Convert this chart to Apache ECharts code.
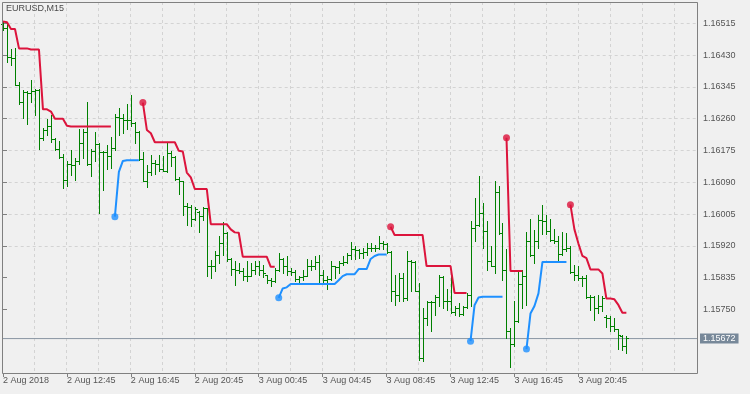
<!DOCTYPE html>
<html><head><meta charset="utf-8">
<script src="https://cdn.jsdelivr.net/npm/echarts@6/dist/echarts.min.js"></script>
<style>html,body{margin:0;padding:0;background:#f0f0f0}#c{width:750px;height:394px}</style>
</head><body><div id="c"></div>
<script>
const symbolName = 'EURUSD,M15';
const timeLabels = ['2 Aug 2018','2 Aug 12:45','2 Aug 16:45','2 Aug 20:45','3 Aug 00:45','3 Aug 04:45','3 Aug 08:45','3 Aug 12:45','3 Aug 16:45','3 Aug 20:45'];
const priceTicks = [1.15750,1.15835,1.15920,1.16005,1.16090,1.16175,1.16260,1.16345,1.16430,1.16515];

const open = [1.16513,1.16502,1.16424,1.16420,1.16350,1.16302,1.16331,1.16327,1.16333,1.16335,
1.16207,1.16229,1.16239,1.16205,1.16178,1.16155,1.16094,1.16137,1.16135,1.16145,
1.16194,1.16222,1.16138,1.16172,1.16191,1.16169,1.16170,1.16158,1.16179,1.16262,
1.16261,1.16254,1.16254,1.16247,1.16223,1.16151,1.16093,1.16115,1.16140,1.16138,
1.16125,1.16120,1.16167,1.16157,1.16098,1.16091,1.16026,1.16023,1.15991,1.16010,
1.15998,1.16019,1.15866,1.15864,1.15895,1.15926,1.15953,1.15884,1.15858,1.15853,
1.15851,1.15839,1.15838,1.15855,1.15866,1.15853,1.15840,1.15826,1.15824,1.15855,
1.15884,1.15864,1.15851,1.15848,1.15830,1.15836,1.15839,1.15864,1.15866,1.15876,
1.15842,1.15828,1.15830,1.15864,1.15861,1.15873,1.15875,1.15895,1.15909,1.15907,
1.15900,1.15901,1.15913,1.15912,1.15913,1.15925,1.15924,1.15902,1.15797,1.15788,
1.15833,1.15779,1.15877,1.15875,1.15799,1.15620,1.15726,1.15769,1.15768,1.15782,
1.15836,1.15772,1.15770,1.15743,1.15753,1.15737,1.15755,1.15788,1.15967,1.15975,
1.16007,1.15958,1.15877,1.15866,1.16063,1.15952,1.15855,1.15692,1.15656,1.15717,
1.15817,1.15839,1.15931,1.15895,1.15931,1.15987,1.15985,1.15958,1.15933,1.15932,
1.15898,1.15910,1.15912,1.15848,1.15842,1.15834,1.15833,1.15782,1.15781,1.15753,
1.15759,1.15728,1.15726,1.15703,1.15695,1.15677,1.15652];

const high = [1.16518,1.16513,1.16444,1.16448,1.16357,1.16335,1.16333,1.16363,1.16339,1.16339,
1.16234,1.16258,1.16268,1.16207,1.16200,1.16163,1.16145,1.16174,1.16154,1.16231,
1.16230,1.16304,1.16177,1.16223,1.16194,1.16172,1.16187,1.16211,1.16270,1.16286,
1.16272,1.16299,1.16321,1.16250,1.16225,1.16170,1.16136,1.16162,1.16147,1.16162,
1.16158,1.16194,1.16172,1.16160,1.16103,1.16093,1.16034,1.16029,1.16023,1.16012,
1.16023,1.16020,1.15882,1.15904,1.15944,1.15982,1.15957,1.15886,1.15877,1.15873,
1.15860,1.15877,1.15873,1.15879,1.15877,1.15868,1.15842,1.15834,1.15860,1.15900,
1.15886,1.15891,1.15860,1.15855,1.15839,1.15855,1.15884,1.15882,1.15891,1.15893,
1.15855,1.15837,1.15877,1.15866,1.15877,1.15891,1.15900,1.15928,1.15919,1.15910,
1.15913,1.15926,1.15926,1.15922,1.15946,1.15931,1.15926,1.15904,1.15842,1.15846,
1.15846,1.15904,1.15882,1.15878,1.15819,1.15753,1.15772,1.15772,1.15788,1.15842,
1.15837,1.15802,1.15837,1.15757,1.15766,1.15757,1.15793,1.15984,1.16047,1.16105,
1.16034,1.15984,1.15917,1.16093,1.16078,1.15980,1.15909,1.15699,1.15770,1.15851,
1.15855,1.15957,1.15991,1.15962,1.16002,1.16029,1.16002,1.15991,1.15964,1.15944,
1.15957,1.15953,1.15917,1.15868,1.15864,1.15839,1.15842,1.15788,1.15784,1.15788,
1.15784,1.15735,1.15730,1.15726,1.15697,1.15679,1.15677];

const low = [1.16497,1.16410,1.16402,1.16348,1.16298,1.16261,1.16245,1.16304,1.16268,1.16177,
1.16203,1.16214,1.16195,1.16174,1.16154,1.16073,1.16078,1.16107,1.16096,1.16138,
1.16154,1.16136,1.16105,1.16145,1.16006,1.16069,1.16123,1.16128,1.16176,1.16216,
1.16221,1.16231,1.16238,1.16194,1.16149,1.16091,1.16075,1.16109,1.16112,1.16118,
1.16118,1.16116,1.16131,1.16096,1.16058,1.16002,1.15975,1.15971,1.15989,1.15955,
1.15989,1.15837,1.15833,1.15851,1.15873,1.15895,1.15877,1.15842,1.15815,1.15846,
1.15828,1.15824,1.15837,1.15844,1.15842,1.15836,1.15819,1.15810,1.15822,1.15851,
1.15846,1.15842,1.15842,1.15824,1.15819,1.15828,1.15837,1.15855,1.15857,1.15819,
1.15819,1.15804,1.15828,1.15833,1.15846,1.15868,1.15873,1.15884,1.15884,1.15886,
1.15886,1.15893,1.15904,1.15906,1.15909,1.15910,1.15900,1.15770,1.15761,1.15770,
1.15770,1.15775,1.15797,1.15797,1.15614,1.15610,1.15708,1.15690,1.15733,1.15757,
1.15753,1.15748,1.15739,1.15735,1.15730,1.15735,1.15752,1.15757,1.15931,1.15972,
1.15913,1.15855,1.15864,1.15846,1.15949,1.15828,1.15672,1.15596,1.15650,1.15714,
1.15753,1.15761,1.15891,1.15873,1.15913,1.15949,1.15949,1.15931,1.15926,1.15882,
1.15895,1.15905,1.15846,1.15828,1.15828,1.15810,1.15779,1.15748,1.15721,1.15739,
1.15744,1.15702,1.15690,1.15690,1.15643,1.15641,1.15632];

const close = [1.16502,1.16424,1.16420,1.16350,1.16302,1.16331,1.16327,1.16333,1.16335,1.16207,
1.16229,1.16239,1.16205,1.16178,1.16155,1.16094,1.16137,1.16135,1.16145,1.16194,
1.16222,1.16138,1.16172,1.16191,1.16169,1.16170,1.16158,1.16179,1.16262,1.16261,
1.16254,1.16254,1.16247,1.16223,1.16151,1.16093,1.16115,1.16140,1.16138,1.16125,
1.16120,1.16167,1.16157,1.16098,1.16091,1.16026,1.16023,1.15991,1.16017,1.15998,
1.16019,1.15866,1.15864,1.15895,1.15926,1.15953,1.15884,1.15858,1.15853,1.15851,
1.15839,1.15838,1.15855,1.15866,1.15853,1.15846,1.15826,1.15824,1.15855,1.15884,
1.15864,1.15851,1.15848,1.15830,1.15836,1.15839,1.15864,1.15866,1.15876,1.15842,
1.15828,1.15830,1.15864,1.15861,1.15873,1.15875,1.15895,1.15909,1.15907,1.15900,
1.15901,1.15913,1.15912,1.15913,1.15925,1.15924,1.15902,1.15797,1.15788,1.15833,
1.15779,1.15877,1.15875,1.15799,1.15620,1.15726,1.15769,1.15768,1.15782,1.15836,
1.15772,1.15770,1.15743,1.15753,1.15737,1.15755,1.15788,1.15967,1.15975,1.16007,
1.15958,1.15877,1.15866,1.16063,1.15952,1.15855,1.15692,1.15656,1.15717,1.15817,
1.15839,1.15931,1.15895,1.15931,1.15987,1.15985,1.15958,1.15933,1.15932,1.15898,
1.15910,1.15912,1.15848,1.15842,1.15834,1.15833,1.15782,1.15781,1.15753,1.15759,
1.15779,1.15726,1.15703,1.15695,1.15679,1.15652,1.15672];

// trailing-stop segments: [first bar index, values...]
const redSegments = [
  [0, [1.16520,1.16518,1.16500,1.16500,1.16448,1.16448,1.16448,1.16445,1.16445,1.16445,1.16285,1.16285,1.16279,1.16260,1.16260,1.16260,1.16241,1.16239,1.16239,1.16239,1.16239,1.16239,1.16239,1.16239,1.16239,1.16239,1.16239,1.16239]],
  [35, [1.16303,1.16230,1.16221,1.16197,1.16197,1.16197,1.16197,1.16197,1.16197,1.16174,1.16172,1.16116,1.16103,1.16072,1.16072,1.16072,1.16072,1.15978,1.15978,1.15978,1.15978,1.15978,1.15964,1.15956,1.15955,1.15891,1.15891,1.15891,1.15891,1.15891,1.15891,1.15891,1.15864,1.15864]],
  [97, [1.15971,1.15949,1.15949,1.15949,1.15949,1.15949,1.15949,1.15949,1.15949,1.15866,1.15866,1.15866,1.15866,1.15866,1.15866,1.15866,1.15794,1.15794,1.15794,1.15794]],
  [126, [1.16209,1.15853,1.15853,1.15853,1.15853]],
  [142, [1.16030,1.15964,1.15926,1.15893,1.15887,1.15857,1.15857,1.15857,1.15846,1.15779,1.15779,1.15777,1.15762,1.15741,1.15741]]
];
const blueSegments = [
  [28, [1.15998,1.16118,1.16147,1.16149,1.16149,1.16149,1.16149]],
  [69, [1.15781,1.15806,1.15809,1.15818,1.15818,1.15818,1.15818,1.15818,1.15818,1.15818,1.15818,1.15818,1.15818,1.15818,1.15818,1.15828,1.15839,1.15844,1.15844,1.15844,1.15858,1.15858,1.15858,1.15885,1.15893,1.15897,1.15897,1.15897]],
  [117, [1.15665,1.15761,1.15782,1.15784,1.15784,1.15784,1.15784,1.15784,1.15784]],
  [131, [1.15644,1.15739,1.15759,1.15793,1.15877,1.15877,1.15877,1.15877,1.15877,1.15877,1.15877]]
];

const N = close.length;
const lastPrice = close[N - 1];
const ohlc = close.map((c, i) => [i, open[i], high[i], low[i], c]);
function segLine(segs) {
  const arr = [];
  for (let i = 0; i < N; i++) arr.push([i, null]);
  segs.forEach(([s, vals]) => vals.forEach((v, k) => { arr[s + k] = [s + k, v]; }));
  return arr;
}
function segDots(segs) { return segs.filter(([s]) => s > 0).map(([s, vals]) => [s, vals[0]]); }

const FONT = 'Liberation Sans';
const TXT = '#555555';
const AX = '#808080';
const RED = '#DC143C', BLUE = '#1E90FF', GREEN = '#008000';
const xMin = -0.075, xMax = 173.675;
const gridColors = ['rgba(0,0,0,0)', 'rgba(0,0,0,0)'];
for (let k = 0; k < 10; k++) gridColors.push('#d3d3d3');
gridColors.push('rgba(0,0,0,0)');

const chart = echarts.init(document.getElementById('c'), null, {renderer: 'canvas'});
chart.setOption({
  animation: false,
  backgroundColor: '#f0f0f0',
  title: {text: symbolName, left: 6, top: 4, padding: 0,
    textStyle: {fontFamily: FONT, fontSize: 9, fontWeight: 'normal', color: '#4a4a4a'}},
  grid: {left: 2, top: 2, right: 53, bottom: 21, containLabel: false},
  xAxis: [
    {type: 'value', min: xMin, max: xMax, interval: 8,
      axisLine: {show: false}, axisTick: {show: false}, axisLabel: {show: false},
      splitLine: {show: true, lineStyle: {color: '#d3d3d3', type: [3, 3], width: 1}}},
    {type: 'value', min: xMin, max: xMax, position: 'bottom',
      axisLine: {show: false}, splitLine: {show: false},
      axisTick: {show: true, length: 4, lineStyle: {color: AX}, customValues: timeLabels.map((_, k) => k * 16)},
      axisLabel: {show: true, customValues: timeLabels.map((_, k) => k * 16), margin: 3, align: 'left',
        fontFamily: FONT, fontSize: 9, color: TXT,
        formatter: v => timeLabels[Math.round(v / 16)] || ''}}
  ],
  yAxis: [
    {type: 'value', position: 'right', min: 1.15580, max: 1.16572, interval: 0.00085,
      axisLine: {show: false},
      axisTick: {show: true, length: 4, lineStyle: {color: AX}, customValues: priceTicks},
      axisLabel: {show: true, customValues: priceTicks, margin: 6, fontFamily: FONT, fontSize: 9, color: TXT,
        formatter: v => (v < 1.1570 || v > 1.1655) ? '' : v.toFixed(5)},
      splitLine: {show: true, lineStyle: {color: gridColors, type: [3, 3], width: 1}}}
  ],
  graphic: [{type: 'rect', silent: true, z: 100,
    shape: {x: 2.5, y: 2.5, width: 695, height: 371},
    style: {fill: null, stroke: AX, lineWidth: 1}}],
  series: [
    {type: 'line', name: 'price', z: 1, silent: true, symbol: 'none',
      data: [[xMin, lastPrice], [xMax, lastPrice]],
      itemStyle: {color: '#8a96a3'},
      lineStyle: {color: '#8a96a3', width: 1},
      endLabel: {show: true, distance: 3, formatter: () => lastPrice.toFixed(5),
        backgroundColor: '#778899', color: '#ffffff', fontFamily: FONT, fontSize: 9,
        padding: [0, 3, 0, 3], lineHeight: 10}},
    {type: 'custom', name: 'bars', z: 2, clip: false, progressive: 0, data: ohlc,
      itemStyle: {color: GREEN, opacity: 1},
      renderItem: function (params, api) {
        const i = api.value(0);
        const po = api.coord([i, api.value(1)]);
        const ph = api.coord([i, api.value(2)]);
        const pl = api.coord([i, api.value(3)]);
        const pc = api.coord([i, api.value(4)]);
        const x = Math.round(po[0]);
        const yh = Math.floor(ph[1]), yl = Math.floor(pl[1]);
        const yo = Math.floor(po[1]), yc = Math.floor(pc[1]);
        return {type: 'group', children: [
          {type: 'rect', shape: {x: x, y: yh, width: 1, height: yl - yh + 1}, style: {fill: GREEN, stroke: null}},
          {type: 'rect', shape: {x: x - 2, y: yo, width: 2, height: 1}, style: {fill: GREEN, stroke: null}},
          {type: 'rect', shape: {x: x + 1, y: yc, width: 2, height: 1}, style: {fill: GREEN, stroke: null}}
        ]};
      }},
    {type: 'line', name: 'down', z: 3, data: segLine(redSegments), connectNulls: false, symbol: 'none',
      itemStyle: {color: RED}, lineStyle: {color: RED, width: 2}},
    {type: 'line', name: 'up', z: 3, data: segLine(blueSegments), connectNulls: false, symbol: 'none',
      itemStyle: {color: BLUE}, lineStyle: {color: BLUE, width: 2}},
    {type: 'scatter', z: 4, data: segDots(redSegments), symbolSize: 7, itemStyle: {color: RED}},
    {type: 'scatter', z: 4, data: segDots(blueSegments), symbolSize: 7, itemStyle: {color: BLUE}}
  ]
});
</script>
</body></html>
